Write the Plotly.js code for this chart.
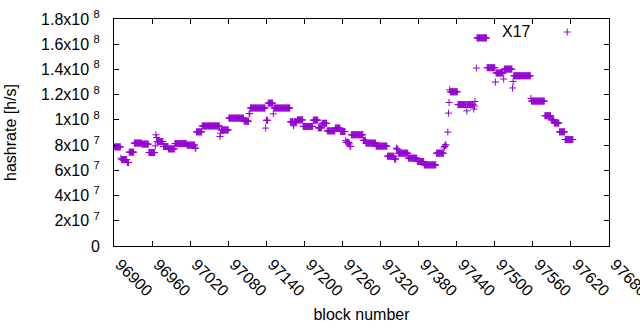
<!DOCTYPE html>
<html>
<head>
<meta charset="utf-8">
<script src="https://cdn.plot.ly/plotly-3.0.1.min.js"></script>
<style>html,body{margin:0;padding:0;background:#fff;}#chart{width:640px;height:330px;}</style>
</head>
<body>
<div id="chart"></div>
<script>
// Runs of consecutive blocks: first block, last block, hashrate (in 1e6 h/s)
const runStart = [96901,96911,96912,96921,96924,96932,96944,96955,96965,96966,96967,96968,96978,96986,96996,97015,97028,97030,97039,97067,97068,97069,97081,97105,97113,97115,97139,97140,97143,97151,97152,97178,97183,97184,97189,97198,97214,97222,97228,97236,97249,97257,97265,97266,97271,97272,97274,97293,97297,97313,97331,97341,97342,97345,97346,97348,97364,97378,97389,97408,97420,97421,97422,97426,97427,97428,97429,97430,97442,97443,97456,97457,97467,97468,97469,97471,97472,97488,97501,97502,97514,97515,97528,97529,97530,97557,97558,97579,97589,97594,97602,97611];
const runEnd   = [96910,96911,96920,96923,96931,96943,96954,96964,96965,96966,96967,96977,96985,96995,97014,97027,97029,97038,97066,97067,97068,97080,97104,97112,97114,97138,97139,97142,97150,97151,97177,97182,97183,97188,97197,97213,97221,97227,97235,97248,97256,97264,97265,97270,97271,97273,97292,97296,97312,97330,97340,97341,97344,97345,97347,97363,97377,97388,97407,97419,97420,97421,97423,97426,97427,97428,97429,97441,97442,97455,97456,97466,97467,97468,97469,97471,97487,97500,97501,97513,97514,97527,97528,97529,97556,97557,97578,97588,97593,97601,97610,97623];
const runRate  = [78.6,69.7,68.5,66.2,74.4,81.6,80.8,74.1,79.4,88.2,86.0,82.8,78.9,77.0,81.2,80.0,77.6,90.5,95.2,86.8,89.5,92.0,101.4,99.0,105.0,109.4,93.5,99.7,113.3,104.8,109.4,98.5,95.3,98.5,100.0,94.8,99.8,93.7,97.3,91.3,93.5,90.8,83.5,82.2,81.0,79.0,88.2,83.8,81.6,79.2,71.2,71.0,69.0,77.6,76.8,73.6,69.7,67.0,64.3,73.6,77.8,78.9,80.2,90.3,105.4,113.8,123.9,122.3,112.0,112.2,107.2,112.2,108.6,111.0,114.6,141.1,165.0,141.4,130.0,137.2,132.4,140.3,125.3,130.5,135.0,117.0,114.9,103.3,100.0,97.5,90.5,84.4];

const xTicks = [96900,96960,97020,97080,97140,97200,97260,97320,97380,97440,97500,97560,97620,97680];
const yTicks = [0,2e7,4e7,6e7,8e7,1e8,1.2e8,1.4e8,1.6e8,1.8e8];
const yTickText = ["0","2x10 <sup>7</sup>","4x10 <sup>7</sup>","6x10 <sup>7</sup>","8x10 <sup>7</sup>","1x10 <sup>8</sup>","1.2x10 <sup>8</sup>","1.4x10 <sup>8</sup>","1.6x10 <sup>8</sup>","1.8x10 <sup>8</sup>"];
const seriesName = "X17";

const blocks = [], rates = [];
for (let i = 0; i < runStart.length; i++) {
  for (let b = runStart[i]; b <= runEnd[i]; b++) {
    blocks.push(b);
    rates.push(runRate[i] * 1e6);
  }
}

const color = "#9400d3";
const fontFam = "Liberation Sans, Arial, sans-serif";
const fs = 16;

const trace = {
  x: blocks, y: rates, type: "scatter", mode: "markers", name: seriesName,
  marker: {symbol: "cross-thin-open", size: 5, color: color, line: {color: color, width: 1}},
  showlegend: false, hoverinfo: "x+y"
};

const layout = {
  width: 640, height: 330,
  margin: {l: 114, r: 31, t: 19, b: 84},
  paper_bgcolor: "#fff", plot_bgcolor: "#fff",
  font: {family: fontFam, size: fs, color: "#000"},
  showlegend: false,
  xaxis: {
    range: [96900, 97680], tickvals: xTicks, ticktext: xTicks.map(String),
    tickangle: 45, ticks: "inside", ticklen: 5, tickcolor: "#000", mirror: "allticks",
    showline: true, linecolor: "#000", linewidth: 1, showgrid: false, zeroline: false,
    ticklabeloverflow: "allow", ticklabelshift: 6, ticklabelstandoff: 2,
    tickfont: {family: fontFam, size: fs, color: "#000"},
    title: {text: "block number", font: {family: fontFam, size: fs, color: "#000"}, standoff: 10}
  },
  yaxis: {
    range: [0, 1.8e8], tickvals: yTicks, ticktext: yTickText,
    ticks: "inside", ticklen: 5, tickcolor: "#000", mirror: "allticks",
    showline: true, linecolor: "#000", linewidth: 1, showgrid: false, zeroline: false,
    ticklabelstandoff: 10,
    tickfont: {family: fontFam, size: fs, color: "#000"},
    title: {text: "hashrate [h/s]", font: {family: fontFam, size: fs, color: "#000"}, standoff: 20}
  },
  annotations: [{
    text: seriesName, xref: "paper", yref: "paper", x: 0.847, y: 0.945,
    xanchor: "right", yanchor: "middle", showarrow: false,
    font: {family: fontFam, size: fs, color: "#000"}
  }],
  shapes: [{
    type: "path", xref: "paper", yref: "paper", xsizemode: "pixel", ysizemode: "pixel",
    xanchor: 0.9156, yanchor: 0.9427,
    path: "M -3.5 0 L 3.5 0 M 0 -3.5 L 0 3.5",
    line: {color: color, width: 1}
  }]
};

Plotly.newPlot("chart", [trace], layout, {displayModeBar: false, staticPlot: true});
</script>
</body>
</html>
